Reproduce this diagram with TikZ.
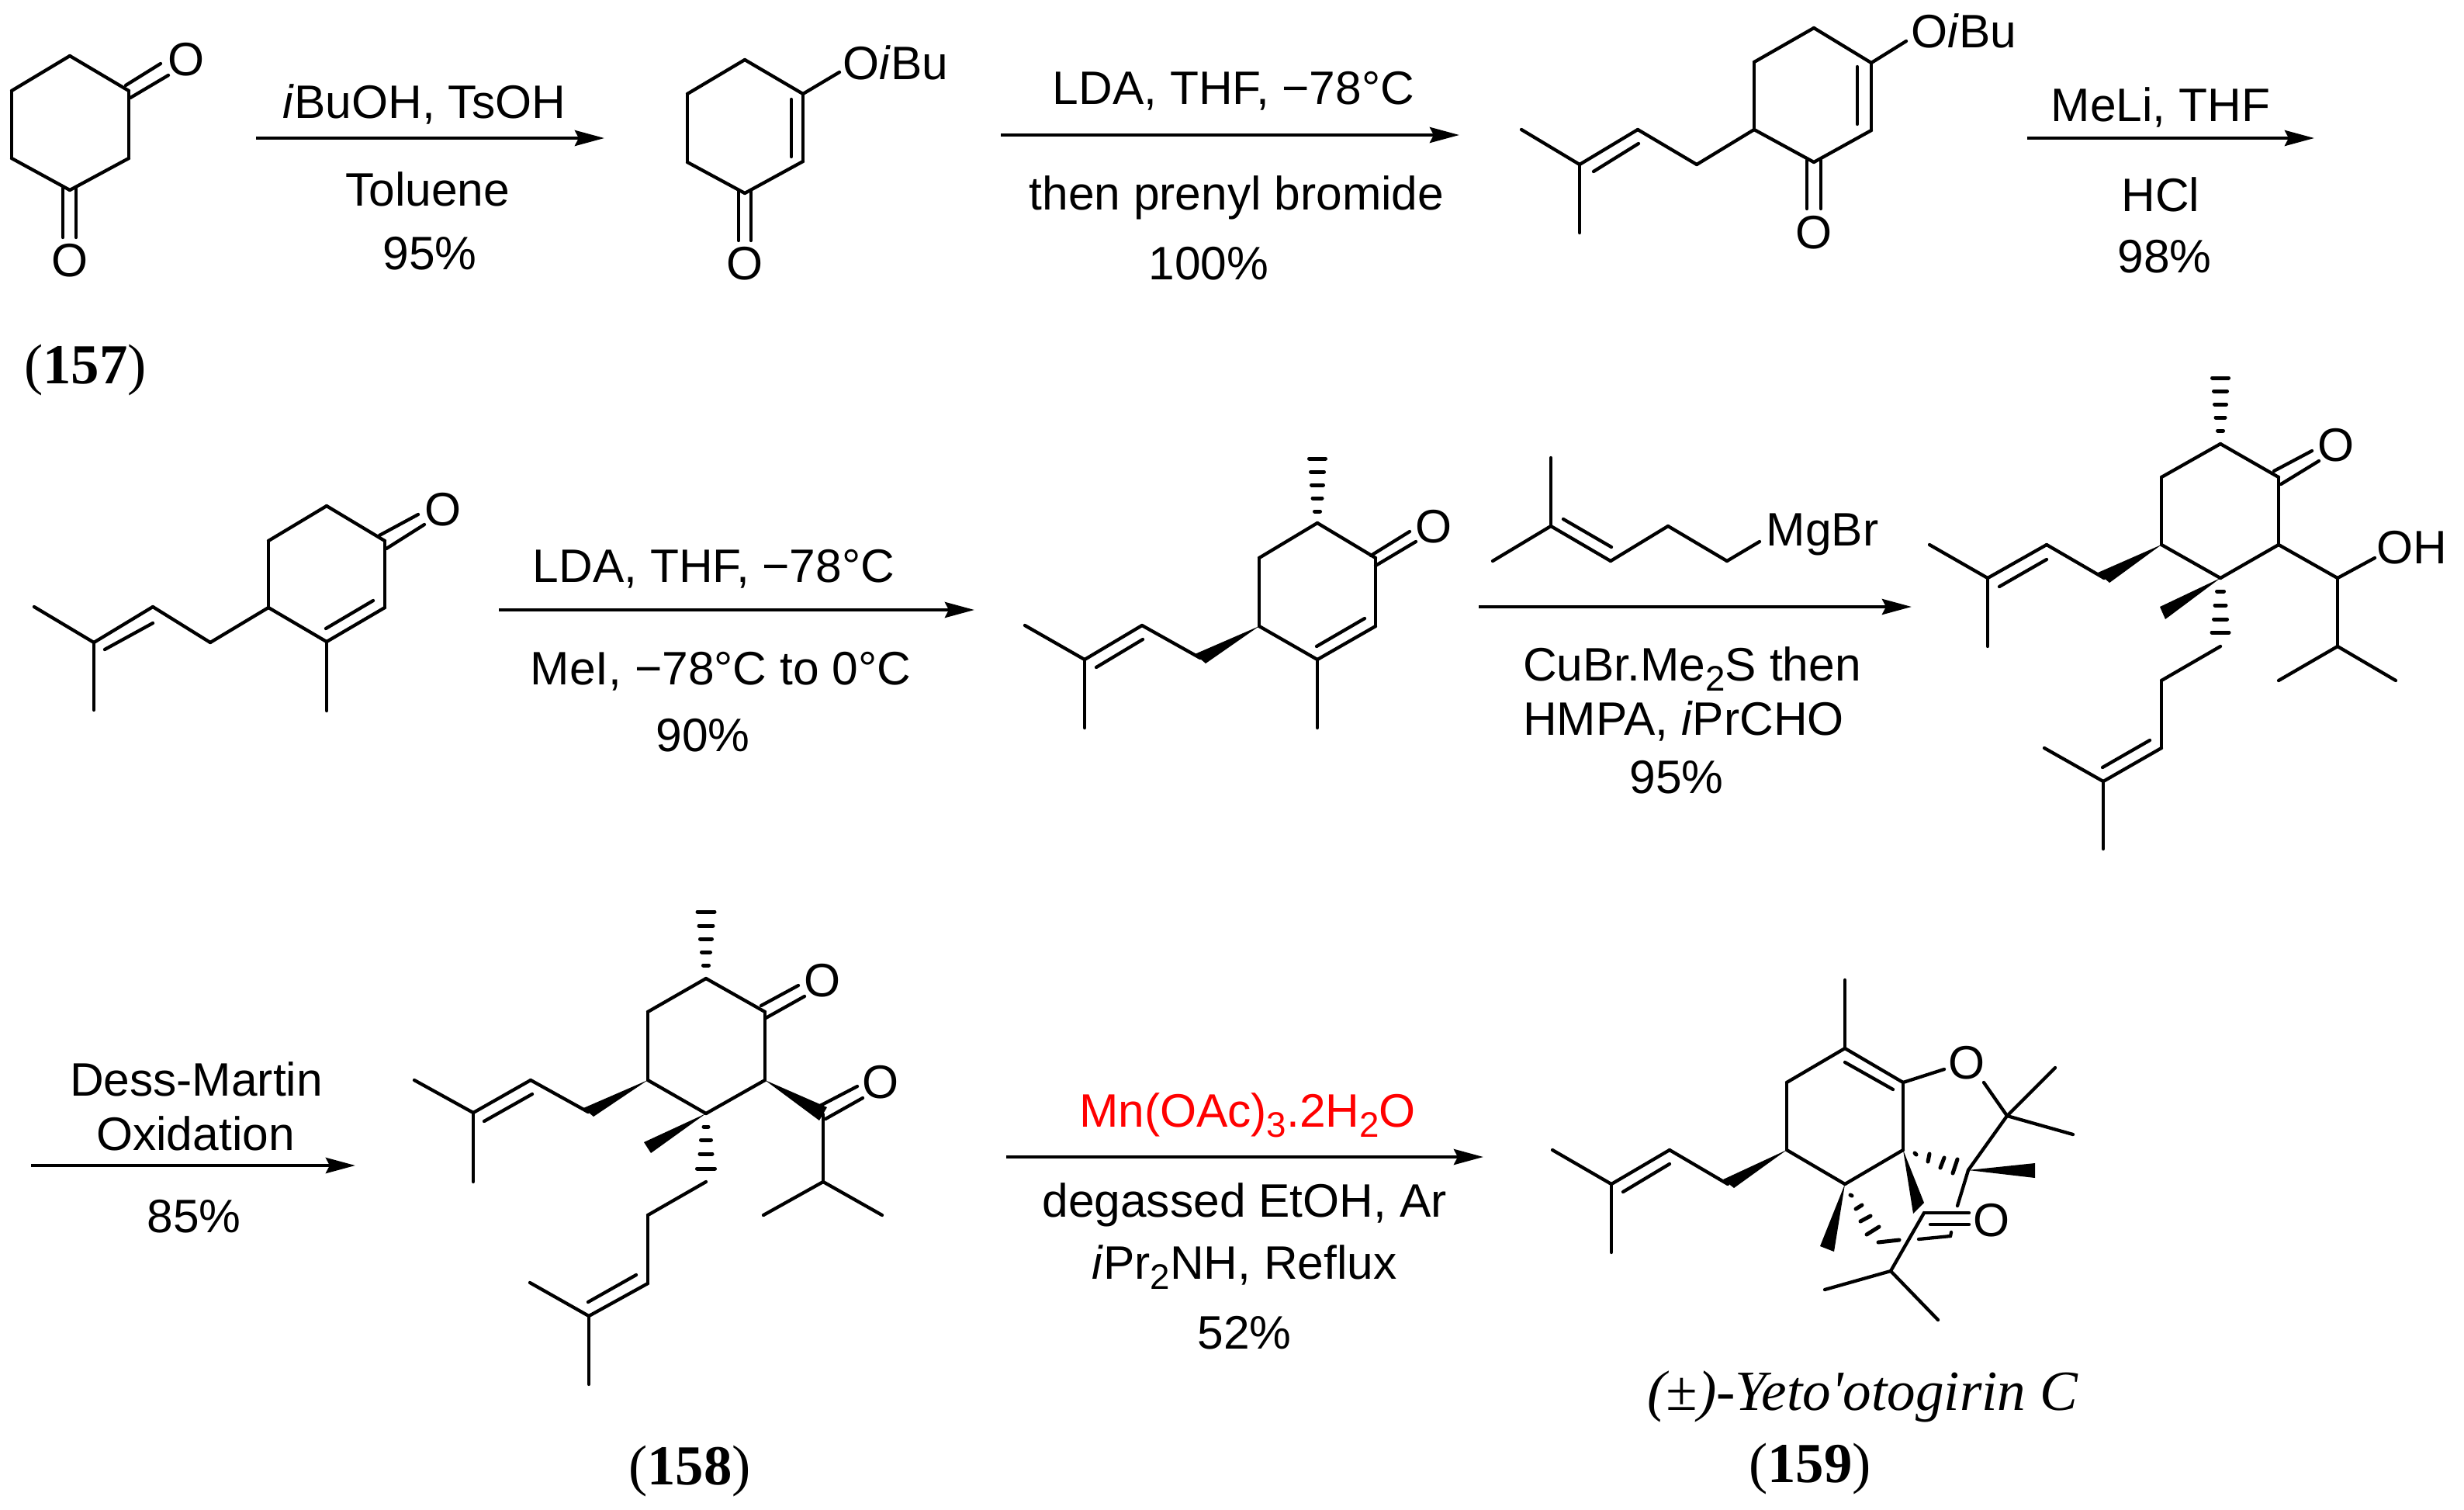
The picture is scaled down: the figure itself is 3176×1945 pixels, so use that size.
\documentclass[tikz,border=0pt]{standalone}
\usepackage{fontspec}
\setmainfont{Liberation Sans}
\newfontfamily\timesfont{Liberation Serif}
\usetikzlibrary{arrows.meta}
\newcommand{\lowtwo}[1]{\raisebox{-0.22em}{\fontsize{13}{15}\selectfont #1}}
\tikzset{
    bond/.style={line width=0.043cm, line cap=round, line join=round},
    hashline/.style={line width=0.05cm, line cap=round},
    rxn/.style={line width=0.045cm, -{Stealth[length=0.38cm,width=0.2cm,inset=0.05cm]}},
    reagent/.style={font=\fontsize{17.2}{20}\selectfont, anchor=base, inner sep=0pt},
    atom/.style={font=\fontsize{17.2}{20}\selectfont, inner sep=0pt},
    cmpd/.style={font=\fontsize{20.7}{24}\selectfont\timesfont, anchor=base, inner sep=0pt}
}
\begin{document}
\begin{tikzpicture}[x=0.01cm, y=-0.01cm]
    \useasboundingbox (0,0) rectangle (3176,1945);
    % Compound 157
    \foreach \x/\y/\n in {90/72/1, 166/117/2, 166/204/3, 90/245/4, 15/204/5, 15/117/6,
                          162/110/7, 207/82/8, 168/126/9, 217/97/10,
                          81/242/11, 81/306/12, 98/242/13, 98/306/14} {
        \coordinate (a\n) at (\x,\y);
    }
    \foreach \a/\b in {1/2, 2/3, 3/4, 4/5, 5/6, 6/1, 7/8, 9/10, 11/12, 13/14}
    {   \draw[bond] (a\a) -- (a\b);}
    \node[atom] (aO1) at (240,77) {O};
    \node[atom] (aO2) at (90,336) {O};
    \node[cmpd] (lab157) at (110,494) {(\textbf{157})};
    % Enol ether
    \foreach \x/\y/\n in {960/77/1, 1035/121/2, 1035/208/3, 960/249/4, 886/209/5, 886/121/6,
                          1020/128/7, 1020/202/8, 1082/93/9,
                          952/246/10, 952/310/11, 968/246/12, 968/310/13} {
        \coordinate (b\n) at (\x,\y);
    }
    \foreach \a/\b in {1/2, 2/3, 3/4, 4/5, 5/6, 6/1, 7/8, 2/9, 10/11, 12/13}
    {   \draw[bond] (b\a) -- (b\b);}
    \node[reagent, anchor=base west] (bOR) at (1086,102) {O\textit{i}Bu};
    \node[atom] (bO) at (960,340) {O};
    % Step 1
    \coordinate (s1a) at (330,178);
    \coordinate (s1b) at (779,178);
    \draw[rxn] (s1a) -- (s1b);
    \node[reagent] (s1t) at (547,152) {\textit{i}BuOH, TsOH};
    \node[reagent] (s1u) at (551,265) {Toluene};
    \node[reagent] (s1y) at (554,347) {95\%};
    % Prenylated enone
    \foreach \x/\y/\n in {2338/36/1, 2412/81/2, 2412/168/3, 2338/209/4, 2261/167/5, 2261/80/6,
                          2394/86/7, 2394/160/8, 2457/53/9,
                          2329/206/10, 2329/269/11, 2347/206/12, 2347/269/13,
                          2187/212/14, 2111/167/15, 2036/212/16, 1961/167/17, 2036/300/18,
                          2112/185/19, 2054/221/20} {
        \coordinate (c\n) at (\x,\y);
    }
    \foreach \a/\b in {1/2, 2/3, 3/4, 4/5, 5/6, 6/1, 7/8, 2/9, 10/11, 12/13,
                       5/14, 14/15, 15/16, 16/17, 16/18, 19/20}
    {   \draw[bond] (c\a) -- (c\b);}
    \node[reagent, anchor=base west] (cOR) at (2463,61) {O\textit{i}Bu};
    \node[atom] (cO) at (2338,300) {O};
    % Step 2
    \coordinate (s2a) at (1290,174);
    \coordinate (s2b) at (1881,174);
    \draw[rxn] (s2a) -- (s2b);
    \node[reagent] (s2t) at (1590,134) {LDA, THF, −78°C};
    \node[reagent] (s2u) at (1594,270) {then prenyl bromide};
    \node[reagent] (s2y) at (1558,360) {100\%};
    % Step 3
    \coordinate (s3a) at (2613,178);
    \coordinate (s3b) at (2983,178);
    \draw[rxn] (s3a) -- (s3b);
    \node[reagent] (s3t) at (2785,156) {MeLi, THF};
    \node[reagent] (s3u) at (2785,272) {HCl};
    \node[reagent] (s3y) at (2790,351) {98\%};
    % Methyl enone
    \foreach \x/\y/\n in {421/652/1, 496/697/2, 496/783/3, 421/827/4, 346/783/5, 346/697/6,
                          489/690/7, 539/663/8, 498/707/9, 547/676/10,
                          481/774/11, 420/810/12, 421/916/13,
                          271/828/14, 197/782/15, 121/828/16, 44/782/17, 121/915/18,
                          197/803/19, 135/837/20} {
        \coordinate (d\n) at (\x,\y);
    }
    \foreach \a/\b in {1/2, 2/3, 3/4, 4/5, 5/6, 6/1, 7/8, 9/10, 11/12, 4/13,
                       5/14, 14/15, 15/16, 16/17, 16/18, 19/20}
    {   \draw[bond] (d\a) -- (d\b);}
    \node[atom] (dO) at (571,657) {O};
    % Step 4
    \coordinate (s4a) at (643,786);
    \coordinate (s4b) at (1256,786);
    \draw[rxn] (s4a) -- (s4b);
    \node[reagent] (s4t) at (920,750) {LDA, THF, −78°C};
    \node[reagent] (s4u) at (929,882) {MeI, −78°C to 0°C};
    \node[reagent] (s4y) at (906,968) {90\%};
    % Dimethyl enone
    \foreach \x/\y/\n in {1698/674/1, 1773/719/2, 1773/807/3, 1698/850/4, 1623/807/5, 1623/719/6,
                          1767/716/7, 1817/685/8, 1773/729/9, 1825/698/10,
                          1759/797/11, 1697/833/12, 1698/938/13,
                          1547/848/14, 1472/806/15, 1398/850/16, 1321/806/17, 1398/938/18,
                          1473/824/19, 1413/860/20, 1540/843/21, 1554/855/22} {
        \coordinate (e\n) at (\x,\y);
    }
    \foreach \a/\b in {1/2, 2/3, 3/4, 4/5, 5/6, 6/1, 7/8, 9/10, 11/12, 4/13,
                       14/15, 15/16, 16/17, 16/18, 19/20}
    {   \draw[bond] (e\a) -- (e\b);}
    \fill (e5) -- (e21) -- (e22) -- cycle;
    \foreach \y/\w in {591/10.5, 608/8.5, 625/7.5, 642/6, 659/3.5}
    {   \draw[hashline] ({1698-\w},\y) -- ({1698+\w},\y);}
    \node[atom] (eO) at (1848,679) {O};
    % Grignard reagent
    \foreach \x/\y/\n in {1999/590/1, 1999/678/2, 1924/723/3, 2076/723/4, 2150/678/5,
                          2226/723/6, 2268/698/7, 2015/669/8, 2077/705/9} {
        \coordinate (m\n) at (\x,\y);
    }
    \foreach \a/\b in {1/2, 2/3, 2/4, 4/5, 5/6, 6/7, 8/9}
    {   \draw[bond] (m\a) -- (m\b);}
    \node[reagent, anchor=base west] (mgbr) at (2276,703) {MgBr};
    % Step 5
    \coordinate (s5a) at (1906,782);
    \coordinate (s5b) at (2464,782);
    \draw[rxn] (s5a) -- (s5b);
    \node[reagent] (s5t) at (2181,877) {CuBr.Me\lowtwo{2}S then};
    \node[reagent] (s5u) at (2170,947) {HMPA, \textit{i}PrCHO};
    \node[reagent] (s5y) at (2161,1022) {95\%};
    % Aldol product
    \foreach \x/\y/\n in {2862/572/1, 2937/615/2, 2937/702/3, 2862/745/4, 2786/702/5, 2786/615/6,
                          2931/607/7, 2980/581/8, 2940/624/9, 2989/594/10,
                          3013/745/11, 3061/719/12, 3013/833/13, 2937/877/14, 3088/877/15,
                          2712/745/16, 2638/702/17, 2562/745/18, 2487/702/19, 2562/833/20,
                          2638/721/21, 2577/756/22, 2704/738/23, 2719/751/24,
                          2784/782/25, 2791/798/26,
                          2862/833/27, 2786/877/28, 2786/964/29, 2711/1007/30, 2635/964/31,
                          2711/1094/32, 2771/954/33, 2710/989/34} {
        \coordinate (f\n) at (\x,\y);
    }
    \foreach \a/\b in {1/2, 2/3, 3/4, 4/5, 5/6, 6/1, 7/8, 9/10, 3/11, 11/12, 11/13, 13/14, 13/15,
                       16/17, 17/18, 18/19, 18/20, 21/22,
                       27/28, 28/29, 29/30, 30/31, 30/32, 33/34}
    {   \draw[bond] (f\a) -- (f\b);}
    \fill (f5) -- (f23) -- (f24) -- cycle;
    \fill (f4) -- (f25) -- (f26) -- cycle;
    \foreach \y/\w in {487/10.5, 504/8.5, 521/7.5, 538/6, 555/3.5}
    {   \draw[hashline] ({2862-\w},\y) -- ({2862+\w},\y);}
    \foreach \y/\w in {762/4.5, 780/7, 798/8.5, 815/11}
    {   \draw[hashline] ({2862-\w},\y) -- ({2862+\w},\y);}
    \node[atom] (fO) at (3011,574) {O};
    \node[reagent, anchor=base west] (fOH) at (3063,726) {OH};
    % Step 6
    \coordinate (s6a) at (40,1502);
    \coordinate (s6b) at (458,1502);
    \draw[rxn] (s6a) -- (s6b);
    \node[reagent] (s6t) at (253,1412) {Dess-Martin};
    \node[reagent] (s6u) at (252,1482) {Oxidation};
    \node[reagent] (s6y) at (250,1588) {85\%};
    % Compound 158
    \foreach \x/\y/\n in {910/1261/1, 986/1304/2, 986/1392/3, 910/1435/4, 835/1392/5, 835/1304/6,
                          981/1296/7, 1029/1270/8, 987/1312/9, 1037/1284/10,
                          1061/1436/11, 1061/1523/12, 984/1566/13, 1137/1566/14,
                          1057/1425/15, 1105/1400/16, 1064/1442/17, 1112/1415/18,
                          1056/1444/19, 1066/1427/20, 830/1472/21, 839/1486/22,
                          758/1433/23, 684/1392/24, 610/1434/25, 534/1392/26, 610/1523/27,
                          686/1410/28, 624/1445/29, 752/1428/30, 765/1439/31,
                          910/1523/32, 835/1566/33, 835/1654/34, 759/1696/35, 683/1653/36,
                          759/1784/37, 820/1643/38, 758/1678/39} {
        \coordinate (g\n) at (\x,\y);
    }
    \foreach \a/\b in {1/2, 2/3, 3/4, 4/5, 5/6, 6/1, 7/8, 9/10, 11/12, 12/13, 12/14, 15/16, 17/18,
                       23/24, 24/25, 25/26, 25/27, 28/29,
                       32/33, 33/34, 34/35, 35/36, 35/37, 38/39}
    {   \draw[bond] (g\a) -- (g\b);}
    \fill (g3) -- (g19) -- (g20) -- cycle;
    \fill (g4) -- (g21) -- (g22) -- cycle;
    \fill (g5) -- (g30) -- (g31) -- cycle;
    \foreach \y/\w in {1175/11, 1193/9, 1210/7.5, 1227/5.5, 1244/3.5}
    {   \draw[hashline] ({910-\w},\y) -- ({910+\w},\y);}
    \foreach \y/\w in {1452/3, 1469/6.5, 1487/8, 1506/11.5}
    {   \draw[hashline] ({910-\w},\y) -- ({910+\w},\y);}
    \node[atom] (gO1) at (1060,1264) {O};
    \node[atom] (gO2) at (1135,1395) {O};
    \node[cmpd] (lab158) at (889,1913) {(\textbf{158})};
    % Step 7
    \coordinate (s7a) at (1297,1491);
    \coordinate (s7b) at (1912,1491);
    \draw[rxn] (s7a) -- (s7b);
    \node[reagent, text=red] (s7t) at (1608,1452) {Mn(OAc)\lowtwo{3}.2H\lowtwo{2}O};
    \node[reagent] (s7u) at (1604,1568) {degassed EtOH, Ar};
    \node[reagent] (s7v) at (1604,1648) {\textit{i}Pr\lowtwo{2}NH, Reflux};
    \node[reagent] (s7y) at (1604,1738) {52\%};
    % Compound 159
    \foreach \x/\y/\n in {2378/1263/1, 2378/1351/2, 2453/1395/3, 2453/1482/4, 2378/1526/5, 2303/1482/6,
                          2303/1395/7, 2378/1369/8, 2440/1404/9, 2506/1378/10,
                          2557/1395/11, 2587/1438/12, 2649/1376/13, 2672/1462/14,
                          2537/1508/15, 2623/1499/16, 2623/1518/17, 2523/1554/18,
                          2466/1564/19, 2480/1550/20, 2480/1563/21, 2538/1563/22,
                          2488/1578/23, 2538/1578/24, 2437/1638/25, 2352/1662/26, 2498/1701/27,
                          2346/1606/28, 2364/1613/29, 2227/1526/30, 2152/1482/31,
                          2077/1526/32, 2001/1482/33, 2077/1614/34, 2152/1500/35, 2092/1536/36,
                          2221/1520/37, 2235/1531/38, 2473/1597/39, 2514/1593/40, 2515/1588/41} {
        \coordinate (h\n) at (\x,\y);
    }
    \foreach \a/\b in {1/2, 2/3, 3/4, 4/5, 5/6, 6/7, 7/2, 8/9, 3/10, 11/12, 12/13, 12/14, 12/15,
                       15/18, 21/22, 23/24, 21/25, 25/26, 25/27,
                       30/31, 31/32, 32/33, 32/34, 35/36, 39/40, 40/41}
    {   \draw[bond] (h\a) -- (h\b);}
    \fill (h15) -- (h16) -- (h17) -- cycle;
    \fill (h4) -- (h19) -- (h20) -- cycle;
    \fill (h5) -- (h28) -- (h29) -- cycle;
    \fill (h6) -- (h37) -- (h38) -- cycle;
    % hashed bonds of the fused rings
    \foreach \u/\v/\p/\q in {2468/1486/2470/1488, 2487/1487/2485/1497,
                             2506/1492/2501/1505, 2523/1494/2517/1512,
                             2385/1540/2387/1541, 2392/1558/2400/1553,
                             2398/1574/2411/1567, 2406/1591/2422/1581, 2421/1601/2448/1598}
    {   \draw[hashline] (\u,\v) -- (\p,\q);}
    \node[atom] (hO1) at (2535,1370) {O};
    \node[atom] (hO2) at (2567,1573) {O};
    \node[font=\fontsize{20.8}{24}\selectfont\timesfont\itshape, anchor=base, inner sep=0pt] (yeto) at (2401,1817) {(±)-Yeto'otogirin C};
    \node[cmpd] (lab159) at (2333,1910) {(\textbf{159})};
\end{tikzpicture}
\end{document}
